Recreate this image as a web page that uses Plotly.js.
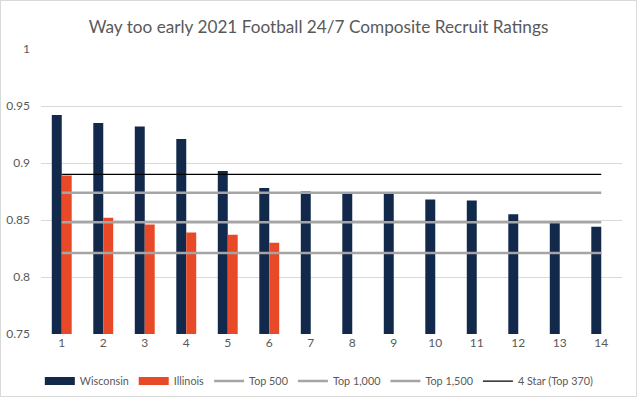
<!DOCTYPE html>
<html>
<head>
<meta charset="utf-8">
<script src="https://cdn.plot.ly/plotly-3.0.1.min.js"></script>
<style>
html,body{margin:0;padding:0;background:#fff;}
#wrap{position:relative;width:637px;height:397px;}
#chart{width:637px;height:397px;}
#frame{position:absolute;left:0;top:0;width:635px;height:395px;border:1px solid #d9d9d9;pointer-events:none;}
</style>
</head>
<body>
<div id="wrap"><div id="chart"></div><div id="frame"></div></div>
<script>
const categories = ["1","2","3","4","5","6","7","8","9","10","11","12","13","14"];
const wisconsin = [0.942,0.935,0.932,0.921,0.893,0.878,0.875,0.874,0.874,0.868,0.867,0.855,0.848,0.844];
const illinois = [0.889,0.852,0.846,0.839,0.837,0.830,null,null,null,null,null,null,null,null];
const top500 = [0.874,0.874,0.874,0.874,0.874,0.874,0.874,0.874,0.874,0.874,0.874,0.874,0.874,0.874];
const top1000 = [0.848,0.848,0.848,0.848,0.848,0.848,0.848,0.848,0.848,0.848,0.848,0.848,0.848,0.848];
const top1500 = [0.821,0.821,0.821,0.821,0.821,0.821,0.821,0.821,0.821,0.821,0.821,0.821,0.821,0.821];
const fourStar = [0.890,0.890,0.890,0.890,0.890,0.890,0.890,0.890,0.890,0.890,0.890,0.890,0.890,0.890];
const yTickVals = [0.75,0.8,0.85,0.9,0.95,1];
const yTickText = ["0.75","0.8","0.85","0.9","0.95","1"];

const FONT = "Lato, 'Open Sans', sans-serif";
const GREY_TXT = "#595959";
const NAVY = "#13294b";
const ORANGE = "#e84a27";

const traces = [
  {type:"bar", name:"Wisconsin", x:categories, y:wisconsin, marker:{color:NAVY}, showlegend:false},
  {type:"bar", name:"Illinois", x:categories, y:illinois, marker:{color:ORANGE}, showlegend:false},
  // legend-only swatches drawn as wide rectangles like the original
  {type:"scatter", mode:"lines", name:"Wisconsin", x:[null], y:[null], line:{color:NAVY, width:8}},
  {type:"scatter", mode:"lines", name:"Illinois", x:[null], y:[null], line:{color:ORANGE, width:8}},
  {type:"scatter", mode:"lines", name:"Top 500", x:categories, y:top500, line:{color:"#a5a5a5", width:2.5}},
  {type:"scatter", mode:"lines", name:"Top 1,000", x:categories, y:top1000, line:{color:"#a5a5a5", width:2.5}},
  {type:"scatter", mode:"lines", name:"Top 1,500", x:categories, y:top1500, line:{color:"#a5a5a5", width:2.5}},
  {type:"scatter", mode:"lines", name:"4 Star (Top 370)", x:categories, y:fourStar, line:{color:"#000000", width:1.25}}
];

const layout = {
  width:637, height:397,
  margin:{l:41, r:15, t:49, b:63, autoexpand:false},
  paper_bgcolor:"#ffffff", plot_bgcolor:"#ffffff",
  font:{family:FONT, color:GREY_TXT, size:12},
  title:{text:"Way too early 2021 Football 24/7 Composite Recruit Ratings", font:{family:FONT, size:17.2, color:GREY_TXT}, x:0.5, xanchor:"center", y:0.932, yanchor:"middle"},
  barmode:"group", bargap:0.52, bargroupgap:0,
  xaxis:{type:"category", showgrid:false, zeroline:false, showline:false, ticks:"", tickfont:{size:12, color:GREY_TXT}, fixedrange:true, automargin:false},
  yaxis:{range:[0.75,1], tickvals:yTickVals, ticktext:yTickText, showgrid:true, gridcolor:"#d9d9d9", gridwidth:1, zeroline:false, showline:false, ticks:"", tickfont:{size:12, color:GREY_TXT}, ticklabelstandoff:10, automargin:false},
  showlegend:true,
  legend:{orientation:"h", x:-0.002, xanchor:"left", y:-0.165, yanchor:"middle", font:{size:10.8, color:GREY_TXT}, itemwidth:30, traceorder:"normal"}
};

Plotly.newPlot("chart", traces, layout, {staticPlot:true, displayModeBar:false});
</script>
</body>
</html>
